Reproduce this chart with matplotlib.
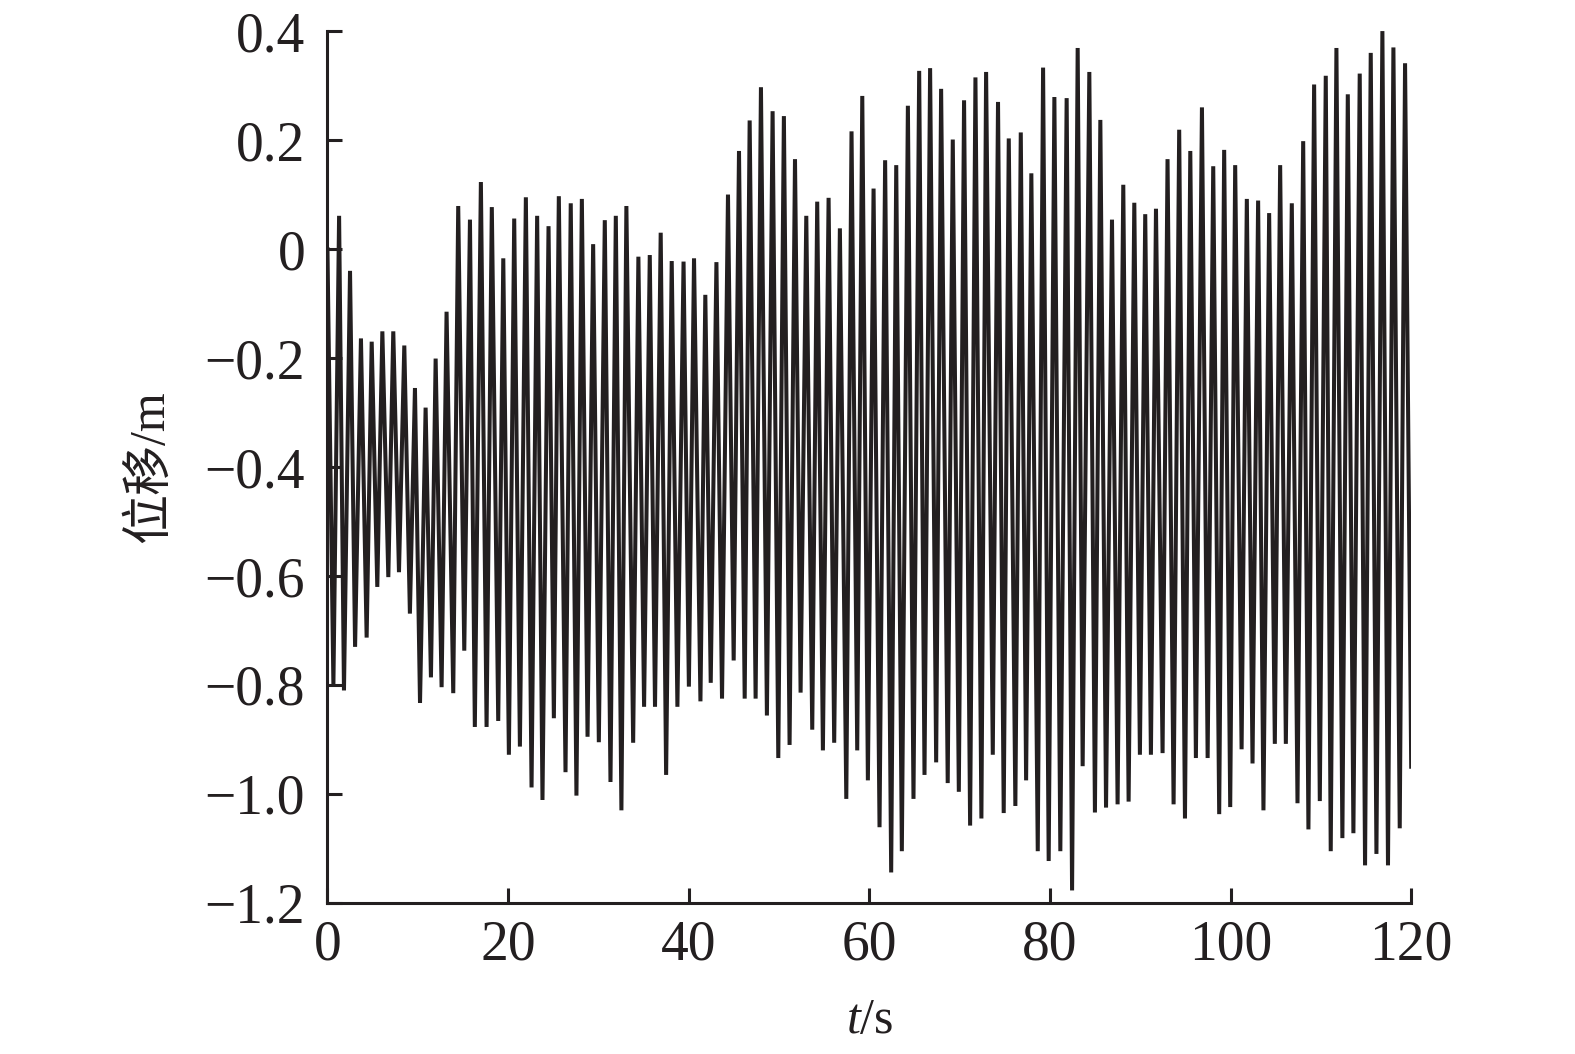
import numpy as np
import matplotlib
matplotlib.use("Agg")
import matplotlib.pyplot as plt

# Start / end of the record
t_start, v_start = 0.0, 0.0
t_end, v_end = 120.0, -0.95

# Local maxima (peaks): time (s), displacement (m)
t_peak = [1.29, 2.5, 3.71, 4.9, 6.08, 7.29, 8.51, 9.69, 10.87, 11.98,
          13.19, 14.48, 15.78, 16.99, 18.2, 19.47, 20.68, 21.97, 23.22, 24.48,
          25.62, 26.94, 28.17, 29.42, 30.71, 31.93, 33.1, 34.43, 35.69, 36.9,
          38.12, 39.43, 40.59, 41.84, 43.07, 44.35, 45.57, 46.75, 48.0, 49.29,
          50.54, 51.77, 53.02, 54.23, 55.49, 56.74, 58.03, 59.22, 60.47, 61.75,
          62.98, 64.27, 65.52, 66.73, 67.95, 69.24, 70.49, 71.75, 72.93, 74.25,
          75.44, 76.77, 77.94, 79.24, 80.49, 81.85, 83.07, 84.36, 85.58, 86.87,
          88.12, 89.34, 90.55, 91.74, 93.02, 94.31, 95.54, 96.83, 98.08, 99.29,
          100.51, 101.8, 103.05, 104.27, 105.49, 106.78, 108.04, 109.25, 110.54, 111.72,
          112.98, 114.3, 115.52, 116.81, 118.03, 119.32]
v_peak = [0.061, -0.04, -0.164, -0.17, -0.151, -0.151, -0.177, -0.255, -0.291, -0.201,
          -0.115, 0.079, 0.054, 0.123, 0.077, -0.017, 0.056, 0.095, 0.061, 0.042,
          0.097, 0.084, 0.092, 0.009, 0.053, 0.061, 0.079, -0.014, -0.011, 0.03,
          -0.022, -0.023, -0.017, -0.084, -0.024, 0.1, 0.18, 0.236, 0.297, 0.253,
          0.244, 0.165, 0.061, 0.087, 0.094, 0.038, 0.216, 0.281, 0.111, 0.163,
          0.154, 0.263, 0.327, 0.332, 0.294, 0.201, 0.273, 0.315, 0.325, 0.27,
          0.203, 0.214, 0.139, 0.333, 0.279, 0.277, 0.369, 0.325, 0.237, 0.054,
          0.118, 0.085, 0.064, 0.074, 0.165, 0.219, 0.18, 0.26, 0.152, 0.182,
          0.154, 0.092, 0.089, 0.066, 0.154, 0.084, 0.198, 0.302, 0.318, 0.369,
          0.284, 0.322, 0.36, 0.4, 0.37, 0.341]

# Local minima (troughs)
t_trough = [0.66, 1.83, 3.06, 4.34, 5.52, 6.74, 7.92, 9.13, 10.25, 11.46,
            12.64, 13.93, 15.15, 16.32, 17.62, 18.91, 20.09, 21.31, 22.6, 23.81,
            25.07, 26.36, 27.57, 28.8, 30.05, 31.34, 32.55, 33.85, 35.06, 36.27,
            37.5, 38.75, 40.02, 41.3, 42.44, 43.69, 44.98, 46.2, 47.41, 48.66,
            49.92, 51.17, 52.39, 53.68, 54.86, 56.11, 57.45, 58.66, 59.84, 61.13,
            62.42, 63.6, 64.89, 66.11, 67.4, 68.68, 69.91, 71.16, 72.41, 73.67,
            74.88, 76.17, 77.36, 78.65, 79.86, 81.15, 82.45, 83.62, 84.98, 86.21,
            87.49, 88.71, 89.96, 91.18, 92.47, 93.69, 94.95, 96.16, 97.46, 98.74,
            99.96, 101.22, 102.43, 103.64, 104.9, 106.12, 107.41, 108.62, 109.88, 111.09,
            112.38, 113.6, 114.89, 116.15, 117.43, 118.73]
v_trough = [-0.80, -0.81, -0.73, -0.713, -0.62, -0.602, -0.593, -0.669, -0.833, -0.786,
            -0.804, -0.815, -0.737, -0.877, -0.877, -0.866, -0.928, -0.913, -0.988, -1.011,
            -0.861, -0.96, -1.003, -0.895, -0.905, -0.978, -1.03, -0.906, -0.84, -0.84,
            -0.965, -0.84, -0.803, -0.83, -0.796, -0.825, -0.755, -0.825, -0.825, -0.856,
            -0.934, -0.91, -0.814, -0.882, -0.92, -0.906, -1.009, -0.92, -0.975, -1.061,
            -1.144, -1.105, -1.009, -0.965, -0.942, -0.98, -0.996, -1.058, -1.045, -0.928,
            -1.035, -1.022, -0.975, -1.105, -1.123, -1.105, -1.177, -0.949, -1.034, -1.025,
            -1.019, -1.014, -0.928, -0.928, -0.925, -1.019, -1.045, -0.934, -0.934, -1.037,
            -1.024, -0.918, -0.944, -1.03, -0.908, -0.908, -1.017, -1.065, -1.013, -1.105,
            -1.081, -1.072, -1.131, -1.11, -1.131, -1.063]

x_ticks = [0, 20, 40, 60, 80, 100, 120]
y_ticks = [0.4, 0.2, 0, -0.2, -0.4, -0.6, -0.8, -1.0, -1.2]
y_ticklabels = ["0.4", "0.2", "0", "\u22120.2", "\u22120.4", "\u22120.6",
                "\u22120.8", "\u22121.0", "\u22121.2"]

# merge peaks and troughs into one time series
t = np.concatenate([[t_start], t_peak, t_trough, [t_end]])
v = np.concatenate([[v_start], v_peak, v_trough, [v_end]])
order = np.argsort(t)
t, v = t[order], v[order]

plt.rcParams["font.family"] = ["Liberation Serif", "Noto Sans CJK SC"]
plt.rcParams["mathtext.fontset"] = "custom"
plt.rcParams["mathtext.rm"] = "Liberation Serif"
plt.rcParams["mathtext.it"] = "Liberation Serif:italic"

fig = plt.figure(figsize=(15.75, 10.54), dpi=100)
ax = fig.add_axes([0.2079, 0.1433, 0.6881, 0.8272])

ax.plot(t, v, color="#231f20", lw=2.9, solid_joinstyle="miter")

ax.set_xlim(0, 120)
ax.set_ylim(-1.2, 0.4)
ax.set_xticks(x_ticks)
ax.set_yticks(y_ticks)
ax.set_yticklabels(y_ticklabels)

for s in ["top", "right"]:
    ax.spines[s].set_visible(False)
for s in ["left", "bottom"]:
    ax.spines[s].set_linewidth(2.2)
    ax.spines[s].set_color("#231f20")

ax.tick_params(axis="both", direction="in", length=11, width=2.2,
               color="#231f20", labelsize=40, labelcolor="#231f20")
ax.tick_params(axis="x", pad=12)
ax.tick_params(axis="y", pad=16)

ax.set_xlabel("$t$/s", fontsize=36, color="#231f20", va="center")
ax.xaxis.set_label_coords(0.5, -0.135)
ax.set_ylabel("位移/m", fontsize=36, color="#231f20", va="center",
              family=["Liberation Serif", "Noto Sans CJK SC"])
ax.yaxis.set_label_coords(-0.163, 0.5)

fig.savefig("out.png", dpi=100)
